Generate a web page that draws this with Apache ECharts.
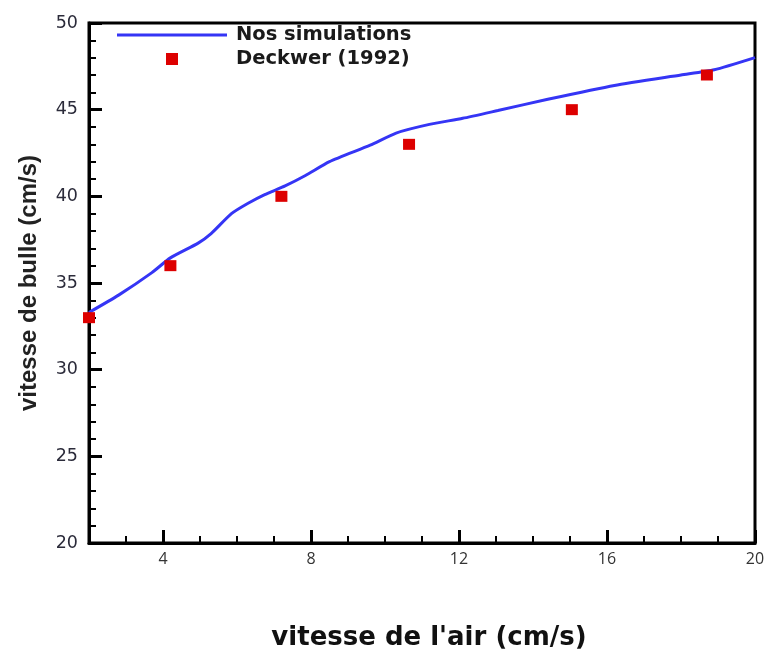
<!DOCTYPE html>
<html>
<head>
<meta charset="utf-8">
<script src="https://cdn.jsdelivr.net/npm/echarts@6/dist/echarts.min.js"></script>
<style>
  html, body { margin: 0; padding: 0; background: #fff; }
  #chart { width: 764px; height: 655px; }
</style>
</head>
<body>
<div id="chart"></div>
<script>
// Simulated bubble rise velocity vs superficial air velocity
const simAirVelocity = [2.0, 2.8, 3.7, 4.2, 4.95, 5.3, 5.85, 6.3, 6.75, 7.3, 7.85, 8.5, 9.6, 10.3, 11.2, 12.1, 13.05, 14.4, 16.2, 18.0, 18.9, 20.0];
const simBubbleVelocity = [33.3, 34.3, 35.6, 36.45, 37.3, 37.85, 39.0, 39.6, 40.1, 40.6, 41.2, 42.0, 42.95, 43.65, 44.15, 44.5, 44.95, 45.6, 46.4, 47.0, 47.3, 48.0];

// Experimental data, Deckwer (1992)
const expAirVelocity = [2.0, 4.2, 7.2, 10.65, 15.05, 18.7];
const expBubbleVelocity = [33, 36, 40, 43, 45, 47];

// Axis ticks
const xMajorTicks = [4, 8, 12, 16, 20];
const seriesNames = ['Nos simulations', 'Deckwer (1992)'];

const simData = simAirVelocity.map((x, i) => [x, simBubbleVelocity[i]]);
const expData = expAirVelocity.map((x, i) => [x, expBubbleVelocity[i]]);

const chart = echarts.init(document.getElementById('chart'), null, { renderer: 'canvas' });

chart.setOption({
  backgroundColor: '#ffffff',
  animation: false,
  grid: {
    left: 89, right: 9, top: 23, bottom: 112,
    outerBoundsMode: 'none',
    show: true, borderColor: '#000', borderWidth: 3, backgroundColor: 'transparent'
  },
  legend: {
    orient: 'vertical',
    left: 112, top: 20,
    itemWidth: 110, itemHeight: 12, itemGap: 4,
    symbolKeepAspect: true,
    textStyle: {
      fontFamily: 'DejaVu Sans', fontWeight: 'bold', fontSize: 19.5,
      color: '#1a1a1a', padding: [0, 0, 0, 4]
    },
    data: [
      { name: seriesNames[0], icon: 'path://M0 0H110V3H0Z' },
      { name: seriesNames[1], icon: 'path://M0 0H10V10H0Z' }
    ]
  },
  xAxis: [
    {
      type: 'value', min: 2, max: 20, position: 'bottom',
      name: "vitesse de l'air (cm/s)",
      nameLocation: 'middle', nameGap: 82,
      nameTextStyle: {
        fontFamily: 'DejaVu Sans', fontWeight: 'bold', fontSize: 26, color: '#111',
        padding: [0, 0, 0, 14]
      },
      axisLine: { show: true, lineStyle: { color: '#000', width: 3 } },
      axisTick: { show: true, inside: true, length: 13, lineStyle: { color: '#000', width: 3 }, customValues: xMajorTicks },
      axisLabel: { customValues: xMajorTicks, margin: 8, fontFamily: 'Open Sans', fontSize: 16, color: '#333' },
      splitLine: { show: false }
    },
    {
      // unit spacing minor ticks
      type: 'value', min: 2, max: 20, interval: 1, position: 'bottom',
      axisLine: { show: false },
      axisTick: { show: true, inside: true, length: 7, lineStyle: { color: '#000', width: 2 } },
      axisLabel: { show: false },
      splitLine: { show: false }
    }
  ],
  yAxis: {
    type: 'value', min: 20, max: 50, interval: 5,
    name: 'vitesse de bulle (cm/s)',
    nameLocation: 'middle', nameGap: 48, nameRotate: 90,
    nameTextStyle: { fontFamily: 'Liberation Sans', fontWeight: 'bold', fontSize: 24, color: '#222' },
    axisLine: { show: true, lineStyle: { color: '#000', width: 3 } },
    axisTick: { show: true, inside: true, length: 13, lineStyle: { color: '#000', width: 3 } },
    minorTick: { show: true, splitNumber: 5, length: 7, lineStyle: { color: '#000', width: 2 } },
    axisLabel: { margin: 11, fontFamily: 'DejaVu Sans', fontSize: 17.5, color: '#2b2b3a' },
    splitLine: { show: false }
  },
  series: [
    {
      name: seriesNames[0],
      type: 'line',
      data: simData,
      symbol: 'none',
      smooth: 0.2,
      lineStyle: { color: '#3535f5', width: 3 },
      itemStyle: { color: '#3535f5' },
      z: 3
    },
    {
      name: seriesNames[1],
      type: 'scatter',
      data: expData,
      symbol: 'rect',
      symbolSize: [12, 11],
      clip: false,
      itemStyle: { color: '#dd0000', opacity: 1 },
      z: 4
    }
  ]
});
</script>
</body>
</html>
